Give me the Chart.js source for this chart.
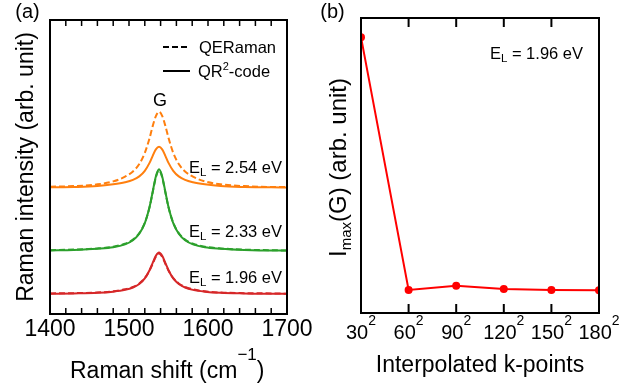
<!DOCTYPE html>
<html>
<head>
<meta charset="utf-8">
<script src="https://cdn.jsdelivr.net/npm/chart.js@4.4.1/dist/chart.umd.min.js"></script>
<style>
body { margin: 0; background: #fff; }
#wrap { position: relative; width: 634px; height: 391px; }
canvas { position: absolute; top: 0; }
</style>
</head>
<body>
<div id="wrap">
<canvas id="chartA" width="317" height="391" style="left:0"></canvas>
<canvas id="chartB" width="317" height="391" style="left:317px"></canvas>
</div>
<script>
// panel (a): Raman spectra, offset per laser energy
const shift = [1400,1430,1460,1480,1495,1505,1513,1520,1526,1530,1534,1538,1542,1546,1550,1556,1563,1571,1581,1596,1616,1646,1680,1700];
const orangeQE = [43.3,43.5,44.1,45.1,46.7,48.5,51.0,54.8,59.8,63.9,67.3,68.8,67.4,64.0,59.9,54.8,51.0,48.5,46.7,45.1,44.1,43.5,43.2,43.2];
const orangeQR = [43.1,43.2,43.5,44.1,44.8,45.6,46.8,48.7,51.4,53.8,56.0,56.9,56.0,53.8,51.4,48.7,46.8,45.6,44.8,44.1,43.5,43.2,43.1,43.0];
const greenQE = [21.7,21.9,22.3,22.9,23.9,25.3,27.5,31.0,36.3,41.4,46.5,48.9,46.5,41.4,36.3,31.0,27.5,25.3,23.9,22.9,22.3,21.9,21.7,21.6];
const greenQR = [21.6,21.8,22.2,22.7,23.7,25.1,27.3,30.9,36.4,41.6,46.8,49.2,46.8,41.6,36.4,30.9,27.3,25.1,23.7,22.7,22.2,21.8,21.6,21.6];
const redQE = [7.0,7.1,7.3,7.7,8.4,9.2,10.4,12.2,14.8,17.1,19.5,20.6,19.5,17.1,14.8,12.2,10.4,9.2,8.4,7.7,7.3,7.1,7.0,6.9];
const redQR = [6.9,7.0,7.2,7.6,8.2,9.0,10.2,12.1,14.9,17.4,19.8,20.9,19.8,17.4,14.9,12.1,10.2,9.0,8.2,7.6,7.2,7.0,6.9,6.9];
const energyLabels = ['2.54', '2.33', '1.96'];

// panel (b): max G intensity vs k-point grid
const kLabels = ['30', '60', '90', '120', '150', '180'];
const imaxG = [9.35, 0.78, 0.92, 0.81, 0.78, 0.77];

const FONT = '"Liberation Sans", Arial, sans-serif';
const ORANGE = '#ff7f0e', GREEN = '#2ca02c', RED = '#d62728';

function pts(arr) {
    return shift.map((x, i) => ({x: x, y: arr[i]}));
}

// draw a run of text pieces [text, size, dy] one after another
function rich(ctx, parts, x, y, align) {
    let w = 0;
    parts.forEach(p => { ctx.font = p[1] + 'px ' + FONT; w += ctx.measureText(p[0]).width; });
    let cx = x;
    if (align === 'center') cx = x - w / 2;
    if (align === 'right') cx = x - w;
    ctx.textAlign = 'left';
    ctx.textBaseline = 'alphabetic';
    parts.forEach(p => {
        ctx.font = p[1] + 'px ' + FONT;
        ctx.fillText(p[0], cx, y + (p[2] || 0));
        cx += ctx.measureText(p[0]).width;
    });
}

function line(ctx, x1, y1, x2, y2) {
    ctx.beginPath();
    ctx.moveTo(x1, y1);
    ctx.lineTo(x2, y2);
    ctx.stroke();
}

function spec(data, color, dashed) {
    return {
        data: pts(data),
        borderColor: color,
        borderWidth: 2,
        borderDash: dashed ? [6, 3] : [],
        pointRadius: 0,
        cubicInterpolationMode: 'monotone',
        fill: false
    };
}

const panelA = {
    id: 'panelA',
    afterDraw(chart) {
        const ctx = chart.ctx;
        const a = chart.chartArea;
        const xs = chart.scales.x;
        ctx.save();
        ctx.strokeStyle = '#000';
        ctx.fillStyle = '#000';
        ctx.lineWidth = 2;
        ctx.strokeRect(a.left, a.top, a.right - a.left, a.bottom - a.top);
        ctx.lineWidth = 1.5;
        for (let v = 1420; v < 1700; v += 20) {
            const px = xs.getPixelForValue(v);
            line(ctx, px, a.bottom, px, a.bottom - 6);
            line(ctx, px, a.top, px, a.top + 6);
        }
        // legend
        ctx.lineWidth = 2;
        ctx.setLineDash([6, 3]);
        line(ctx, 163, 47, 190, 47);
        ctx.setLineDash([]);
        line(ctx, 163, 71, 190, 71);
        rich(ctx, [['QERaman', 16.5, 0]], 199, 53, 'left');
        rich(ctx, [['QR', 16.5, 0], ['2', 11, -7], ['-code', 16.5, 0]], 198, 77, 'left');
        // annotations
        rich(ctx, [['G', 18, 0]], 160, 106, 'center');
        const ys = [173, 237, 283];
        energyLabels.forEach((e, i) => {
            rich(ctx, [['E', 16.5, 0], ['L', 11.5, 3], [' = ' + e + ' eV', 16.5, 0]], 282, ys[i], 'right');
        });
        rich(ctx, [['(a)', 20, 0]], 27.5, 18, 'center');
        rich(ctx, [['Raman shift (cm', 23, 0], ['\u22121', 17, -18], [')', 23, 0]], 70, 378, 'left');
        ctx.translate(26, 167);
        ctx.rotate(-Math.PI / 2);
        rich(ctx, [['Raman intensity (arb. unit)', 23, 0]], 0, 7, 'center');
        ctx.restore();
    }
};

new Chart(document.getElementById('chartA'), {
    type: 'line',
    data: {
        datasets: [
            spec(orangeQR, ORANGE, false), spec(orangeQE, ORANGE, true),
            spec(greenQR, GREEN, false), spec(greenQE, GREEN, true),
            spec(redQR, RED, false), spec(redQE, RED, true)
        ]
    },
    options: {
        responsive: false,
        animation: false,
        layout: { padding: { left: 50, right: 30, top: 20, bottom: 0 } },
        plugins: { legend: { display: false }, tooltip: { enabled: false } },
        scales: {
            x: {
                type: 'linear', min: 1400, max: 1700,
                grid: { display: false, drawTicks: false },
                border: { display: false },
                ticks: {
                    stepSize: 100, maxRotation: 0, padding: 2, color: '#000',
                    font: { family: FONT, size: 23 },
                    callback: v => String(v)
                },
                afterFit(s) { s.height = 77; }
            },
            y: { display: false, min: 0, max: 100 }
        }
    },
    plugins: [panelA]
});

const panelB = {
    id: 'panelB',
    afterDraw(chart) {
        const ctx = chart.ctx;
        const a = chart.chartArea;
        const xs = chart.scales.x;
        ctx.save();
        ctx.strokeStyle = '#000';
        ctx.fillStyle = '#000';
        ctx.lineWidth = 2;
        ctx.strokeRect(a.left, a.top, a.right - a.left, a.bottom - a.top);
        kLabels.forEach((k, i) => {
            const px = xs.getPixelForValue(i);
            if (i > 0 && i < kLabels.length - 1) {
                line(ctx, px, a.bottom, px, a.bottom - 9);
                line(ctx, px, a.top, px, a.top + 9);
            }
            rich(ctx, [[k, 20, 0], ['2', 14, -14]], px, 339, 'center');
        });
        rich(ctx, [['E', 16.5, 0], ['L', 11.5, 3], [' = 1.96 eV', 16.5, 0]], 266, 59, 'right');
        rich(ctx, [['Interpolated k-points', 23, 0]], 163, 372, 'center');
        rich(ctx, [['(b)', 20, 0]], 15.5, 18, 'center');
        ctx.translate(29, 167.5);
        ctx.rotate(-Math.PI / 2);
        rich(ctx, [['I', 24, 0], ['max', 15, 5], ['(G) (arb. unit)', 24, 0]], 0, 0, 'center');
        ctx.restore();
    }
};

new Chart(document.getElementById('chartB'), {
    type: 'line',
    data: {
        labels: kLabels,
        datasets: [{
            data: imaxG,
            borderColor: '#ff0000',
            backgroundColor: '#ff0000',
            borderWidth: 2,
            pointRadius: 4,
            pointBorderWidth: 0,
            clip: 0
        }]
    },
    options: {
        responsive: false,
        animation: false,
        layout: { padding: { left: 44, right: 35, top: 18, bottom: 0 } },
        plugins: { legend: { display: false }, tooltip: { enabled: false } },
        scales: {
            x: {
                offset: false,
                grid: { display: false, drawTicks: false },
                border: { display: false },
                ticks: { display: false },
                afterFit(s) { s.height = 78; }
            },
            y: { display: false, min: 0, max: 10 }
        }
    },
    plugins: [panelB]
});
</script>
</body>
</html>
